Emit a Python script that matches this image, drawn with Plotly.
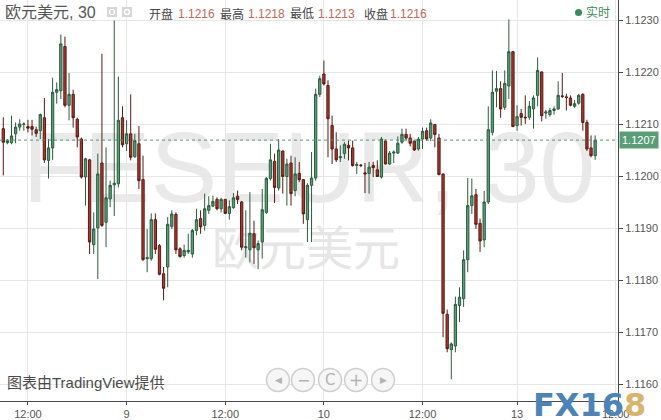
import plotly.graph_objects as go

# ---------------- data ----------------
opens = [1.12092, 1.12065, 1.12065, 1.12082, 1.12095, 1.12100, 1.12096, 1.12096, 1.12090, 1.12088,
         1.12113, 1.12031, 1.12055, 1.12162, 1.12165, 1.12250, 1.12137, 1.12158, 1.12110, 1.12072,
         1.11999, 1.12032, 1.11869, 1.11901, 1.12026, 1.11912, 1.11957, 1.11984, 1.11986, 1.12113,
         1.12063, 1.12082, 1.12038, 1.12063, 1.11994, 1.11842, 1.11842, 1.11917, 1.11867, 1.11813,
         1.11826, 1.11904, 1.11927, 1.11861, 1.11848, 1.11855, 1.11851, 1.11896, 1.11919, 1.11906,
         1.11935, 1.11943, 1.11956, 1.11938, 1.11956, 1.11929, 1.11940, 1.11962, 1.11951, 1.11863,
         1.11859, 1.11890, 1.11859, 1.11874, 1.11931, 1.11996, 1.12029, 1.11978, 1.12049, 1.12000,
         1.12026, 1.11973, 1.12006, 1.11994, 1.11917, 1.11983, 1.11997, 1.12158, 1.12197, 1.12175,
         1.12098, 1.12053, 1.12036, 1.12044, 1.12060, 1.12055, 1.12021, 1.12022, 1.12007, 1.12006,
         1.12021, 1.12013, 1.11999, 1.12068, 1.12024, 1.12045, 1.12045, 1.12066, 1.12081, 1.12074,
         1.12068, 1.12053, 1.12072, 1.12088, 1.12074, 1.12100, 1.12074, 1.12005, 1.11735, 1.11667,
         1.11674, 1.11752, 1.11765, 1.11840, 1.11944, 1.11965, 1.11910, 1.11878, 1.11951, 1.12085,
         1.12164, 1.12169, 1.12133, 1.12174, 1.12240, 1.12098, 1.12121, 1.12114, 1.12114, 1.12130,
         1.12156, 1.12201, 1.12122, 1.12119, 1.12127, 1.12130, 1.12155, 1.12153, 1.12151, 1.12135,
         1.12141, 1.12158, 1.12104, 1.12055, 1.12040]
highs = [1.12114, 1.12072, 1.12117, 1.12104, 1.12110, 1.12104, 1.12109, 1.12109, 1.12096, 1.12121,
         1.12151, 1.12072, 1.12190, 1.12181, 1.12273, 1.12269, 1.12199, 1.12167, 1.12113, 1.12075,
         1.12036, 1.12034, 1.11931, 1.12044, 1.12236, 1.12056, 1.11992, 1.12300, 1.12192, 1.12135,
         1.12108, 1.12158, 1.12082, 1.12097, 1.12040, 1.11899, 1.11929, 1.11929, 1.11870, 1.11826,
         1.11922, 1.11935, 1.11931, 1.11864, 1.11869, 1.11890, 1.11899, 1.11938, 1.11935, 1.11967,
         1.11962, 1.11963, 1.11960, 1.11959, 1.11957, 1.11954, 1.11968, 1.11973, 1.11953, 1.11935,
         1.11970, 1.11915, 1.11877, 1.11976, 1.11999, 1.12063, 1.12044, 1.12072, 1.12050, 1.12034,
         1.12040, 1.12037, 1.12028, 1.11995, 1.11987, 1.12047, 1.12169, 1.12194, 1.12223, 1.12185,
         1.12117, 1.12085, 1.12060, 1.12066, 1.12069, 1.12069, 1.12028, 1.12024, 1.12026, 1.12028,
         1.12028, 1.12031, 1.12076, 1.12071, 1.12049, 1.12050, 1.12077, 1.12092, 1.12092, 1.12082,
         1.12069, 1.12076, 1.12094, 1.12094, 1.12110, 1.12101, 1.12082, 1.12005, 1.11744, 1.11681,
         1.11769, 1.11787, 1.11858, 1.11997, 1.11996, 1.11976, 1.11919, 1.11972, 1.12135, 1.12204,
         1.12203, 1.12183, 1.12204, 1.12302, 1.12241, 1.12137, 1.12130, 1.12156, 1.12145, 1.12156,
         1.12229, 1.12202, 1.12128, 1.12132, 1.12135, 1.12183, 1.12199, 1.12159, 1.12156, 1.12147,
         1.12159, 1.12160, 1.12109, 1.12079, 1.12079]
lows = [1.12002, 1.12062, 1.12062, 1.12064, 1.12088, 1.12088, 1.12085, 1.12079, 1.12076, 1.12072,
        1.12026, 1.11996, 1.12032, 1.12140, 1.12149, 1.12133, 1.12108, 1.12094, 1.12056, 1.11996,
        1.11944, 1.11851, 1.11851, 1.11803, 1.11903, 1.11864, 1.11941, 1.11924, 1.11979, 1.12056,
        1.12049, 1.12031, 1.12036, 1.11976, 1.11838, 1.11816, 1.11838, 1.11851, 1.11810, 1.11762,
        1.11787, 1.11899, 1.11851, 1.11844, 1.11844, 1.11851, 1.11844, 1.11887, 1.11890, 1.11896,
        1.11928, 1.11941, 1.11935, 1.11931, 1.11928, 1.11917, 1.11938, 1.11947, 1.11858, 1.11844,
        1.11835, 1.11832, 1.11822, 1.11842, 1.11928, 1.11992, 1.11949, 1.11973, 1.11967, 1.11944,
        1.11944, 1.11962, 1.11989, 1.11909, 1.11874, 1.11874, 1.11992, 1.12153, 1.12175, 1.12037,
        1.12024, 1.12028, 1.12028, 1.12034, 1.12031, 1.12019, 1.12005, 1.12018, 1.11968, 1.11967,
        1.11999, 1.11999, 1.11996, 1.12023, 1.12022, 1.12026, 1.12044, 1.12063, 1.12069, 1.12058,
        1.12049, 1.12050, 1.12053, 1.12069, 1.12068, 1.12056, 1.12002, 1.11691, 1.11662, 1.11610,
        1.11662, 1.11720, 1.11749, 1.11816, 1.11928, 1.11899, 1.11855, 1.11864, 1.11947, 1.12079,
        1.12133, 1.12113, 1.12128, 1.12149, 1.12095, 1.12088, 1.12098, 1.12101, 1.12109, 1.12092,
        1.12135, 1.12106, 1.12111, 1.12115, 1.12119, 1.12128, 1.12151, 1.12127, 1.12135, 1.12132,
        1.12138, 1.12088, 1.12049, 1.12037, 1.12032]
closes = [1.12066, 1.12069, 1.12078, 1.12095, 1.12101, 1.12101, 1.12093, 1.12091, 1.12083, 1.12119,
          1.12032, 1.12055, 1.12162, 1.12167, 1.12255, 1.12137, 1.12158, 1.12113, 1.12076, 1.11999,
          1.12034, 1.11874, 1.11899, 1.12005, 1.11906, 1.11959, 1.11983, 1.11987, 1.12108, 1.12061,
          1.12082, 1.12037, 1.12069, 1.11992, 1.11840, 1.11844, 1.11917, 1.11860, 1.11812, 1.11785,
          1.11908, 1.11928, 1.11859, 1.11846, 1.11858, 1.11858, 1.11896, 1.11917, 1.11903, 1.11938,
          1.11944, 1.11952, 1.11938, 1.11956, 1.11929, 1.11942, 1.11959, 1.11956, 1.11864, 1.11865,
          1.11891, 1.11863, 1.11871, 1.11936, 1.11996, 1.12032, 1.11979, 1.12051, 1.12000, 1.12024,
          1.11967, 1.12005, 1.11994, 1.11928, 1.11983, 1.11997, 1.12158, 1.12188, 1.12178, 1.12111,
          1.12053, 1.12032, 1.12038, 1.12062, 1.12055, 1.12021, 1.12023, 1.12021, 1.12005, 1.12018,
          1.12017, 1.12000, 1.12072, 1.12024, 1.12045, 1.12047, 1.12064, 1.12081, 1.12074, 1.12064,
          1.12051, 1.12072, 1.12087, 1.12072, 1.12103, 1.12081, 1.12004, 1.11737, 1.11669, 1.11678,
          1.11754, 1.11768, 1.11840, 1.11944, 1.11963, 1.11908, 1.11876, 1.11951, 1.12090, 1.12162,
          1.12169, 1.12130, 1.12179, 1.12240, 1.12096, 1.12115, 1.12114, 1.12113, 1.12135, 1.12151,
          1.12204, 1.12117, 1.12124, 1.12127, 1.12130, 1.12156, 1.12154, 1.12152, 1.12137, 1.12140,
          1.12156, 1.12104, 1.12053, 1.12040, 1.12070]
bar_index = list(range(len(opens)))

x_tick_pos = [6, 30, 54, 78, 102, 125, 149]
x_tick_text = ["12:00", "9", "12:00", "10", "12:00", "13", "12:00"]
y_tick_vals = [1.1160, 1.1170, 1.1180, 1.1190, 1.1200, 1.1210, 1.1220, 1.1230]
last_price = 1.1207
symbol_title = "欧元美元, 30"
ohlc_labels = ["开盘", "最高", "最低", "收盘"]
ohlc_values = ["1.1216", "1.1218", "1.1213", "1.1216"]

# ---------------- figure ----------------
W, H = 661, 420
PLOT_W, PLOT_H = 618, 401


def px(x):
    return x / PLOT_W


def py(y):
    return (PLOT_H - y) / PLOT_H


UP_FILL, UP_LINE = "#55a077", "#2b5c3e"
DN_FILL, DN_LINE = "#a63a30", "#5b1a13"
TXT = "#555555"
GRID = "#e6e6e6"
GREEN = "#4f9a6e"
LAT = "Liberation Sans, Arial, Noto Sans CJK SC"

fig = go.Figure(go.Candlestick(
    x=bar_index, open=opens, high=highs, low=lows, close=closes,
    increasing=dict(fillcolor=UP_FILL, line=dict(color=UP_LINE, width=1)),
    decreasing=dict(fillcolor=DN_FILL, line=dict(color=DN_LINE, width=1)),
    whiskerwidth=0, showlegend=False, hoverinfo="skip"))

fig.update_layout(
    width=W, height=H,
    margin=dict(l=0, r=W - PLOT_W, t=0, b=H - PLOT_H, autoexpand=False),
    paper_bgcolor="white", plot_bgcolor="white",
    boxgap=0.2,
    font=dict(family=LAT, size=11, color=TXT),
    showlegend=False,
)
fig.update_xaxes(
    range=[-0.8, 149.56], tickmode="array", tickvals=x_tick_pos, ticktext=x_tick_text,
    showgrid=True, gridcolor=GRID, gridwidth=1, zeroline=False,
    showline=True, linecolor="#4a4a4a", linewidth=1,
    ticks="outside", ticklen=3, tickcolor="#4a4a4a",
    tickfont=dict(size=11, color=TXT, family=LAT), automargin=False,
    rangeslider=dict(visible=False), fixedrange=True)
fig.update_yaxes(
    side="right", range=[1.115683, 1.123394], tickmode="array", tickvals=y_tick_vals,
    tickformat=".4f", showgrid=True, gridcolor=GRID, gridwidth=1, zeroline=False,
    showline=True, linecolor="#4a4a4a", linewidth=1,
    ticks="outside", ticklen=4, tickcolor="#4a4a4a", automargin=False,
    tickfont=dict(size=11, color=TXT, family=LAT), fixedrange=True)

shapes = []
annotations = []

# watermarks (below the data)
shapes.append(dict(type="rect", xref="paper", yref="paper",
                   x0=px(0), x1=px(618), y0=py(208), y1=py(108), layer="below",
                   line=dict(width=0), fillcolor="rgba(0,0,0,0)",
                   label=dict(text="FESEUR, 30", textposition="middle center",
                              font=dict(size=100, color="#e9e9e9", family=LAT))))
shapes.append(dict(type="rect", xref="paper", yref="paper",
                   x0=px(206), x1=px(406), y0=py(275), y1=py(229), layer="below",
                   line=dict(width=0), fillcolor="rgba(0,0,0,0)",
                   label=dict(text="欧元美元", textposition="middle center",
                              font=dict(size=47, color="#e6e6e6", family="Noto Sans CJK SC"))))

# last price dotted line + label
shapes.append(dict(type="line", xref="paper", yref="y", x0=0, x1=1,
                   y0=last_price, y1=last_price, line=dict(color=GREEN, width=1, dash="dot")))
annotations.append(dict(xref="paper", yref="y", x=1, y=last_price, xanchor="left", yanchor="middle",
                        xshift=1, text=f"{last_price:.4f}", showarrow=False, bgcolor="#5a9e78",
                        borderpad=2, font=dict(color="white", size=11, family=LAT)))

# header
annotations.append(dict(xref="paper", yref="paper", x=px(3), y=py(12), xanchor="left", yanchor="middle",
                        text=symbol_title, showarrow=False,
                        font=dict(size=16, color=TXT, family=LAT)))
for x0 in (107, 122):
    shapes.append(dict(type="rect", xref="paper", yref="paper", x0=px(x0), x1=px(x0 + 10),
                       y0=py(17), y1=py(7), line=dict(width=0), fillcolor="#d6d6d6"))
shapes.append(dict(type="circle", xref="paper", yref="paper", x0=px(109.5), x1=px(114.5),
                   y0=py(14.5), y1=py(9.5), line=dict(color="white", width=1.2)))
shapes.append(dict(type="circle", xref="paper", yref="paper", x0=px(124.5), x1=px(129.5),
                   y0=py(14.5), y1=py(9.5), line=dict(color="white", width=1.5)))

label_x = [147, 218, 288, 362]
value_x = [176, 246, 316, 388]
for lab, val, lx, vx in zip(ohlc_labels, ohlc_values, label_x, value_x):
    annotations.append(dict(xref="paper", yref="paper", x=px(lx), y=py(14), xanchor="left",
                            yanchor="middle", text=lab, showarrow=False,
                            font=dict(size=12, color="#444444", family=LAT)))
    annotations.append(dict(xref="paper", yref="paper", x=px(vx), y=py(14), xanchor="left",
                            yanchor="middle", text=val, showarrow=False,
                            font=dict(size=12, color="#c0675c", family=LAT)))

shapes.append(dict(type="circle", xref="paper", yref="paper", x0=px(575), x1=px(582),
                   y0=py(16), y1=py(9), line=dict(width=0), fillcolor="#3a8a5c"))
annotations.append(dict(xref="paper", yref="paper", x=px(584), y=py(13), xanchor="left",
                        yanchor="middle", text="实时", showarrow=False,
                        font=dict(size=12, color="#3a8a5c", family=LAT)))

# footer
annotations.append(dict(xref="paper", yref="paper", x=px(5), y=py(382), xanchor="left",
                        yanchor="middle", text="图表由TradingView提供", showarrow=False,
                        font=dict(size=15, color="#4a4a4a", family=LAT)))

nav_x = [278, 303, 330, 356, 383]
nav_sym = ["◀", "−", "C", "+", "▶"]
nav_size = [9, 16, 15, 17, 9]
for cx, sym, sz in zip(nav_x, nav_sym, nav_size):
    shapes.append(dict(type="circle", xref="paper", yref="paper",
                       x0=px(cx - 11.5), x1=px(cx + 11.5), y0=py(391.5), y1=py(368.5),
                       line=dict(color="#cfcfcf", width=1.5), fillcolor="#f6f6f6"))
    annotations.append(dict(xref="paper", yref="paper", x=px(cx), y=py(380), xanchor="center",
                            yanchor="middle", text=sym, showarrow=False,
                            font=dict(size=sz, color="#b3b3b3", family="DejaVu Sans")))

annotations.append(dict(xref="paper", yref="paper", x=px(531), y=py(405), xanchor="left",
                        yanchor="middle",
                        text='<b><span style="color:#4d84b8">FX16</span>'
                             '<span style="color:#d8b46c">8</span></b>',
                        showarrow=False, font=dict(size=32, family="DejaVu Sans")))

fig.update_layout(shapes=shapes, annotations=annotations)
fig.write_html("out.html", config={"displayModeBar": False},
               post_script="document.body.style.margin='0px';document.body.style.overflow='hidden';")
